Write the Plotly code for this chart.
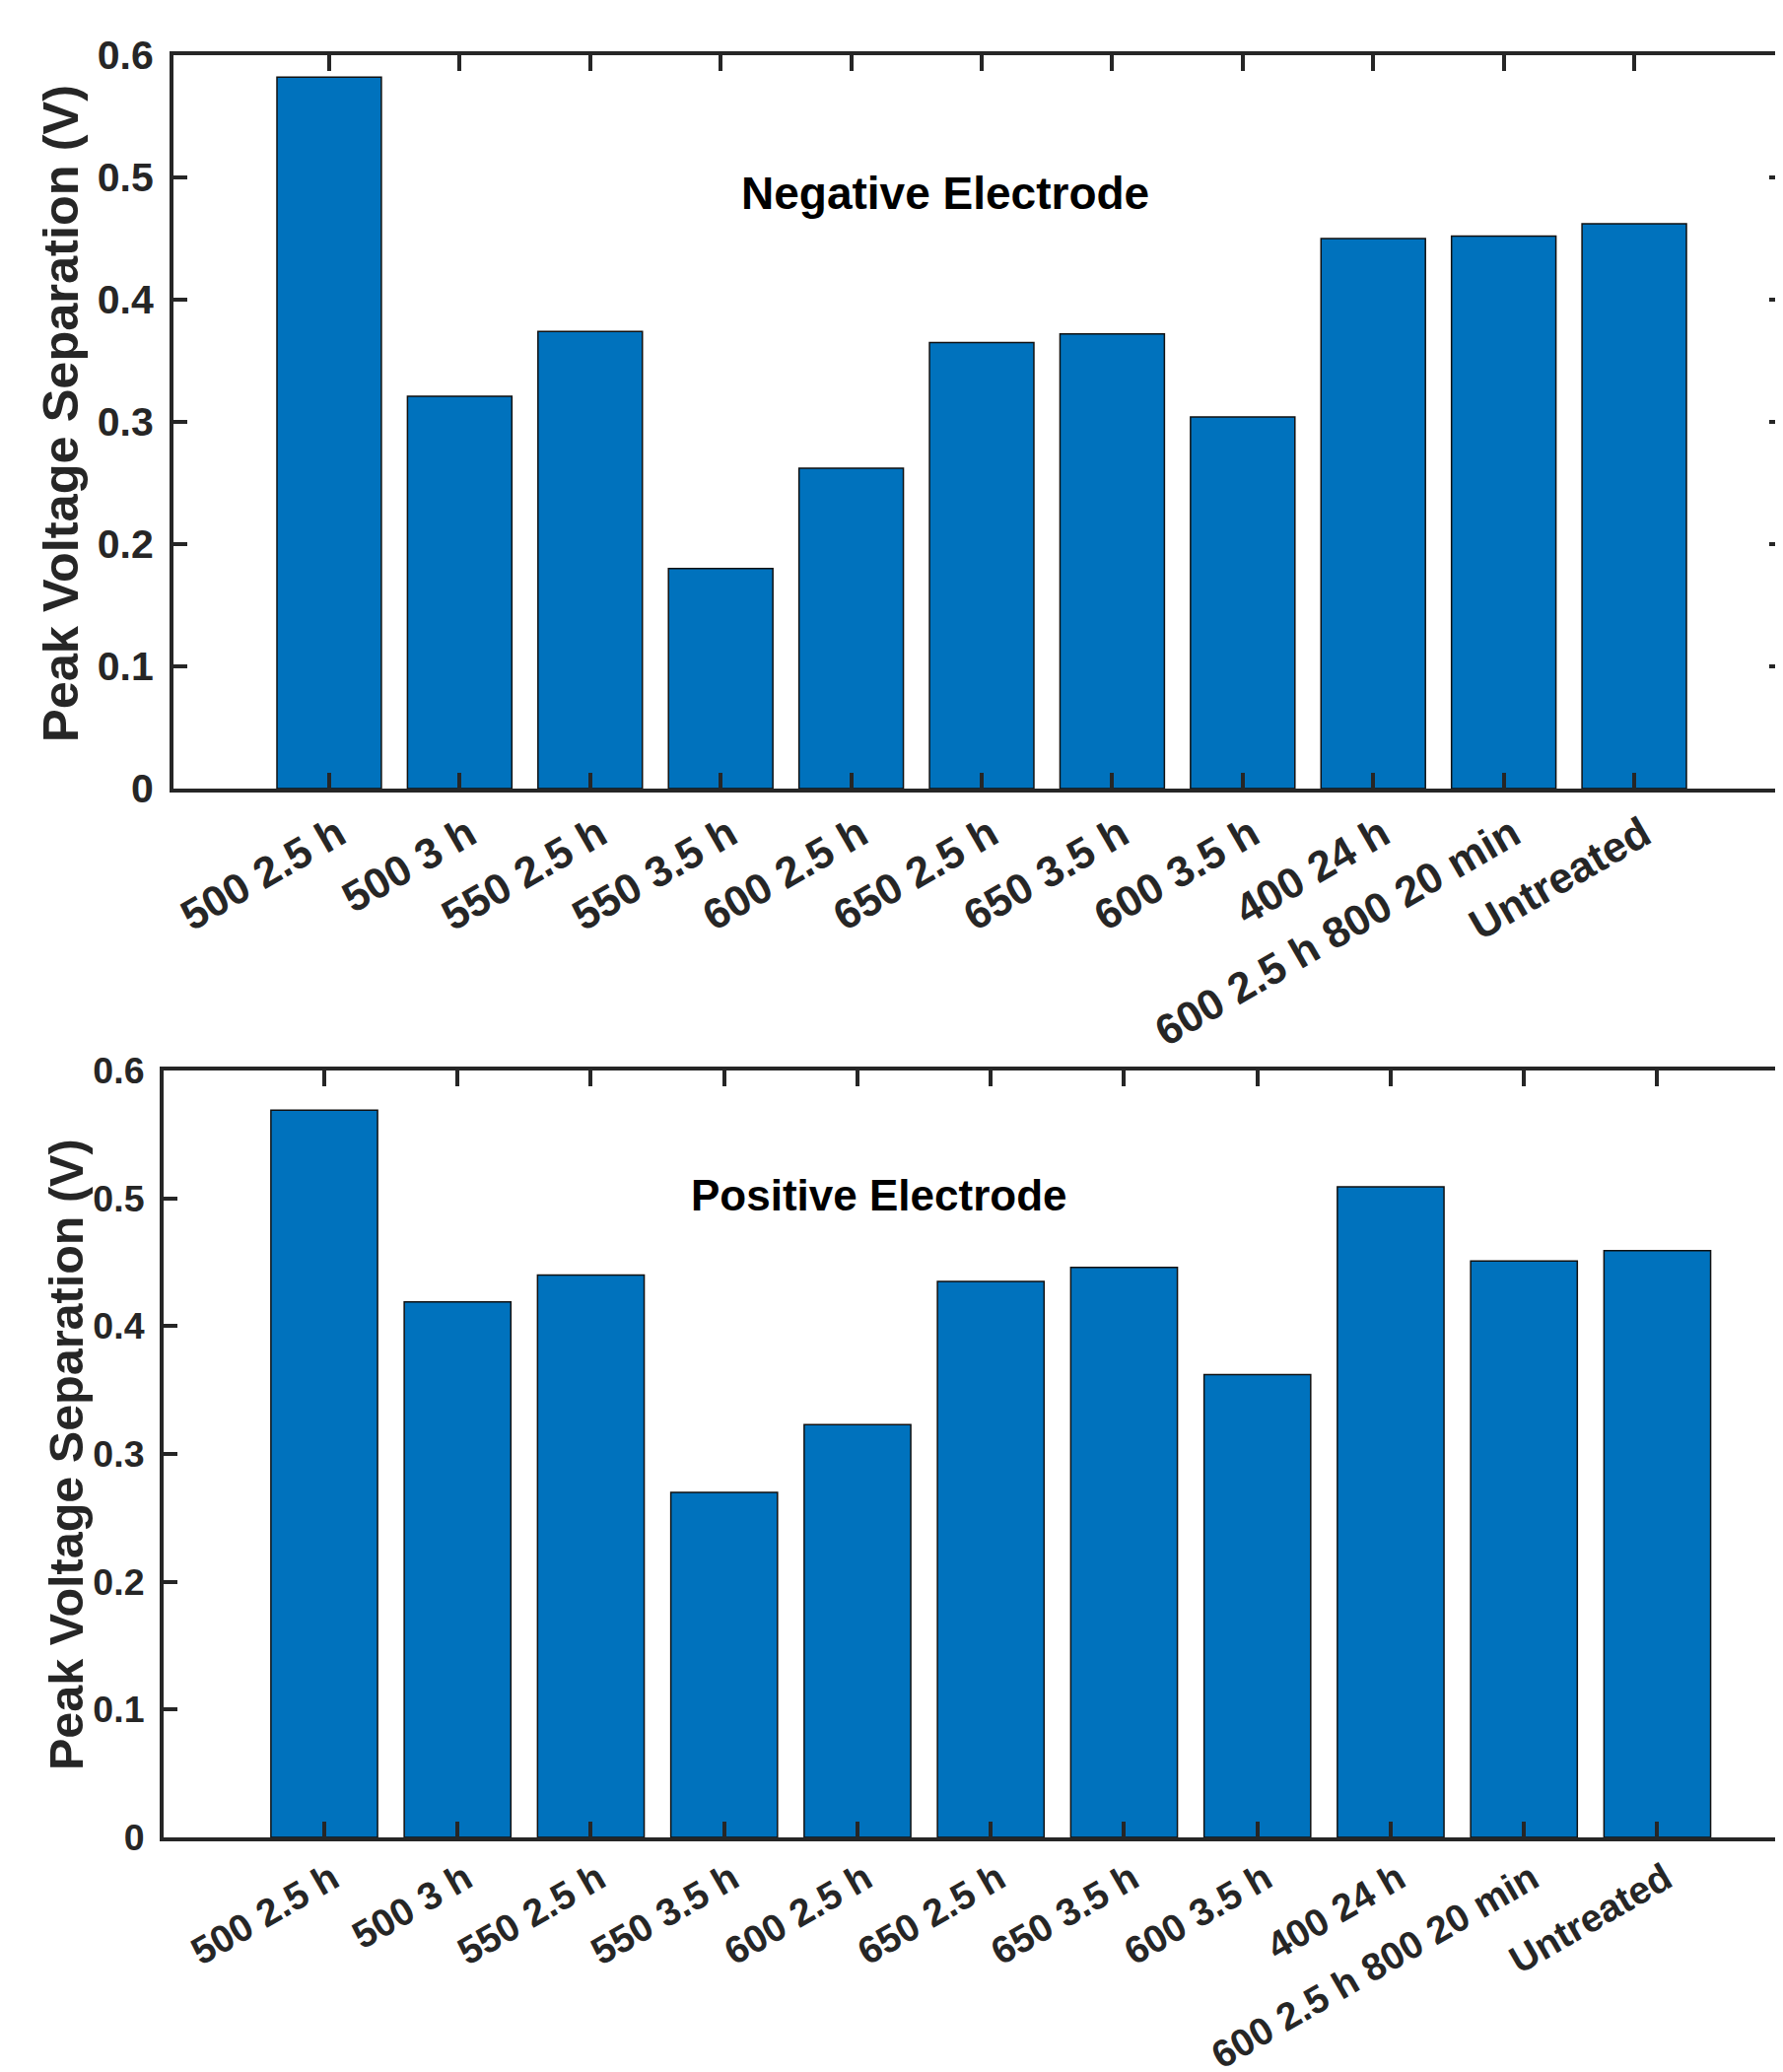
import plotly.graph_objects as go

categories = ["500 2.5 h", "500 3 h", "550 2.5 h", "550 3.5 h", "600 2.5 h",
              "650 2.5 h", "650 3.5 h", "600 3.5 h", "400 24 h",
              "600 2.5 h 800 20 min", "Untreated"]
negative_values = [0.582, 0.321, 0.374, 0.180, 0.262, 0.365, 0.372, 0.304, 0.450, 0.452, 0.462]
positive_values = [0.569, 0.419, 0.440, 0.270, 0.323, 0.435, 0.446, 0.362, 0.509, 0.451, 0.459]
ytick_vals = [0, 0.1, 0.2, 0.3, 0.4, 0.5, 0.6]
ytick_text = ["0", "0.1", "0.2", "0.3", "0.4", "0.5", "0.6"]
ylabel = "Peak Voltage Separation (V)"
titles = ["Negative Electrode", "Positive Electrode"]

PAGE_W, PAGE_H = 1809, 2102
OFF = 8  # default body margin of the html page
W, H = PAGE_W - OFF, PAGE_H - OFF
BAR = "#0072BD"
AX = "#262626"
FONT = "Liberation Sans, Arial, sans-serif"

fig = go.Figure()
fig.add_trace(go.Bar(x=categories, y=negative_values, xaxis="x", yaxis="y",
                     marker=dict(color=BAR, line=dict(color="#111111", width=1.5)),
                     width=0.8, showlegend=False))
fig.add_trace(go.Bar(x=categories, y=positive_values, xaxis="x2", yaxis="y2",
                     marker=dict(color=BAR, line=dict(color="#111111", width=1.5)),
                     width=0.8, showlegend=False))
# invisible helper so the right-side tick axis of the top panel renders
fig.add_trace(go.Scatter(x=[categories[0]], y=[0], xaxis="x", yaxis="y3", mode="markers",
                         marker=dict(opacity=0), showlegend=False, hoverinfo="skip"))

def px_x(p):
    return (p - OFF) / W

def px_y(p):
    return 1 - (p - OFF) / H

common_x = dict(showline=True, linewidth=4, linecolor=AX, mirror="ticks", ticks="inside",
                tickwidth=4, tickcolor=AX, ticklen=16, tickangle=-30, showgrid=False,
                zeroline=False, type="category", automargin=False)
common_y = dict(showline=True, linewidth=4, linecolor=AX, ticks="inside", tickwidth=4,
                tickcolor=AX, ticklen=14, showgrid=False, zeroline=False, range=[0, 0.6],
                tickvals=ytick_vals, ticktext=ytick_text, ticklabelstandoff=8,
                automargin=False)

fig.update_layout(
    template="none",
    width=W, height=H, margin=dict(l=0, r=0, t=0, b=0, pad=0),
    paper_bgcolor="white", plot_bgcolor="white",
    font=dict(family=FONT, color=AX),
    xaxis=dict(common_x, domain=[px_x(176), 1.0], anchor="y",
               range=[-1.193, 11.14], ticklabelshift=9,
               tickfont=dict(family=FONT, size=43.5, color=AX, weight="bold")),
    yaxis=dict(common_y, domain=[px_y(800), px_y(56)], anchor="x",
               tickfont=dict(family=FONT, size=41, color=AX, weight="bold")),
    yaxis3=dict(overlaying="y", side="right", anchor="x", range=[0, 0.6], tickvals=ytick_vals,
                ticks="inside", ticklen=14, tickwidth=4, tickcolor=AX, showticklabels=False,
                showline=False, showgrid=False, zeroline=False, automargin=False),
    xaxis2=dict(common_x, domain=[px_x(166), 1.0], anchor="y2",
                range=[-1.205, 10.943], ticklabelshift=8,
                tickfont=dict(family=FONT, size=39, color=AX, weight="bold")),
    yaxis2=dict(common_y, domain=[px_y(1864), px_y(1086)], anchor="x2",
                tickfont=dict(family=FONT, size=37.5, color=AX, weight="bold")),
    annotations=[
        dict(text=titles[0], xref="paper", yref="paper", x=px_x(959), y=px_y(196),
             xanchor="center", yanchor="middle", showarrow=False,
             font=dict(family=FONT, size=46, color="black", weight="bold")),
        dict(text=titles[1], xref="paper", yref="paper", x=px_x(891), y=px_y(1212),
             xanchor="center", yanchor="middle", showarrow=False,
             font=dict(family=FONT, size=44, color="black", weight="bold")),
        dict(text=ylabel, xref="paper", yref="paper", x=px_x(61), y=px_y(420),
             xanchor="center", yanchor="middle", textangle=-90, showarrow=False,
             font=dict(family=FONT, size=50.5, color=AX, weight="bold")),
        dict(text=ylabel, xref="paper", yref="paper", x=px_x(67), y=px_y(1476),
             xanchor="center", yanchor="middle", textangle=-90, showarrow=False,
             font=dict(family=FONT, size=48.5, color=AX, weight="bold")),
    ],
)

fig.write_html("out.html")
